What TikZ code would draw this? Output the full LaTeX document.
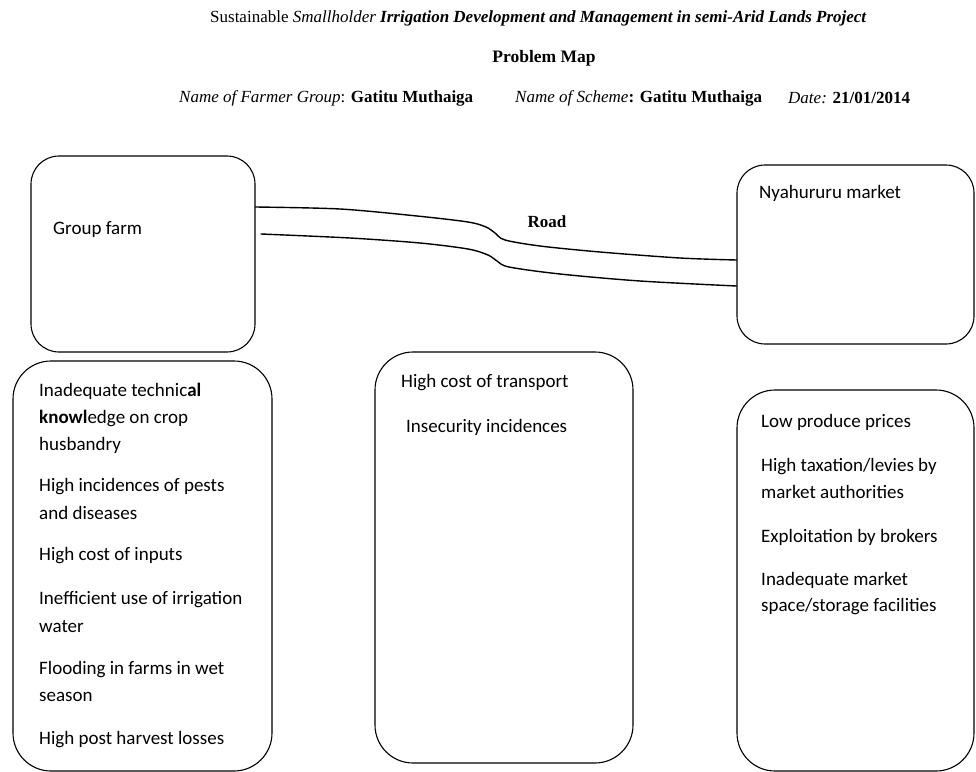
\documentclass[tikz,border=0pt]{standalone}
\usepackage{fontspec}
\setmainfont{Liberation Serif}
\newfontfamily\calib{Carlito}
\begin{document}
\begin{tikzpicture}[x=1pt,y=-1pt,
  box/.style={draw, line width=1.1pt, rounded corners=#1, inner sep=0pt},
  box/.default=28pt,
  txt/.style={anchor=west, inner sep=0pt, font=\calib\fontsize{19}{23}\selectfont},
  ttl/.style={anchor=west, inner sep=0pt, font=\fontsize{17}{20}\selectfont},
  road/.style={line width=1.4pt, line cap=round}]
\useasboundingbox (0,0) rectangle (976,771);
% titles
\node[ttl] (t1) at (210,18) {Sustainable \textit{Smallholder} \textbf{\textit{Irrigation Development and Management in semi-Arid Lands Project}}};
\node[ttl,anchor=center,font=\fontsize{17.5}{20}\selectfont] (t2) at (544,58) {\textbf{Problem Map}};
\node[ttl] (t3) at (179,98) {\textit{Name of Farmer Group}: \textbf{Gatitu Muthaiga}};
\node[ttl] (t4) at (515,98) {\textit{Name of Scheme}\textbf{: Gatitu Muthaiga}};
\node[ttl] (t5) at (788,98) {\textit{Date:} \textbf{21/01/2014}};
% top boxes
\node[box, minimum width=224pt, minimum height=196pt] (gf) at (143,254) {};
\node[box, minimum width=237pt, minimum height=179pt] (mk) at (855.5,254.5) {};
\node[txt] (gft) at (53,230) {Group farm};
\node[txt] (mkt) at (759,193) {Nyahururu market};
% road
\coordinate (ua) at (gf.east |- 0,207);
\coordinate (ub) at (mk.west |- 0,260);
\coordinate (la) at (261,234);
\coordinate (lb) at (mk.west |- 0,286);
\draw[road] plot[smooth, tension=0.5] coordinates {(ua) (340,209) (417,216) (468,222) (486,227) (495,233) (505,240) (540,246) (600,252) (680,258) (ub)};
\draw[road] plot[smooth, tension=0.5] coordinates {(la) (350,238) (420,243) (468,249) (488,255) (497,261) (509,267) (560,274) (640,281) (lb)};
\node[inner sep=0pt, font=\fontsize{17}{20}\selectfont\bfseries] (rd) at (547,222) {Road};
% bottom boxes
\node[box=38pt, minimum width=259pt, minimum height=410pt] (lb1) at (142.5,566) {};
\node[box=38pt, minimum width=258pt, minimum height=411pt] (mb1) at (504,557.5) {};
\node[box=38pt, minimum width=237pt, minimum height=381pt] (rb1) at (855.5,580.5) {};
% left texts
\node[txt] (l1) at (39,391) {Inadequate technic\textbf{al}};
\node[txt] (l2) at (39,418) {\textbf{knowl}edge on crop};
\node[txt] (l3) at (39,445) {husbandry};
\node[txt] (l4) at (39,487) {High incidences of pests};
\node[txt] (l5) at (39,513) {and diseases};
\node[txt] (l6) at (39,556) {High cost of inputs};
\node[txt] (l7) at (39,600) {Inefficient use of irrigation};
\node[txt] (l8) at (39,627) {water};
\node[txt] (l9) at (39,670) {Flooding in farms in wet};
\node[txt] (l10) at (39,697) {season};
\node[txt] (l11) at (39,740) {High post harvest losses};
% middle texts
\node[txt] (m1) at (401,383) {High cost of transport};
\node[txt] (m2) at (406,427) {Insecurity incidences};
% right texts
\node[txt] (r1) at (761,422) {Low produce prices};
\node[txt] (r2) at (761,467) {High taxation/levies by};
\node[txt] (r3) at (761,492) {market authorities};
\node[txt] (r4) at (761,537) {Exploitation by brokers};
\node[txt] (r5) at (761,580) {Inadequate market};
\node[txt] (r6) at (761,607) {space/storage facilities};
\end{tikzpicture}
\end{document}
